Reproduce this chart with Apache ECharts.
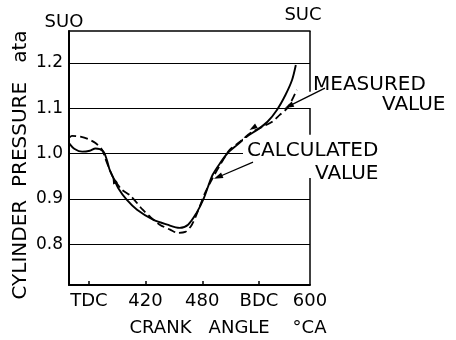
<!DOCTYPE html>
<html><head><meta charset="utf-8">
<script src="https://cdn.jsdelivr.net/npm/echarts@6/dist/echarts.min.js"></script>
<style>html,body{margin:0;padding:0;background:#fff;}#c{width:456px;height:340px;}</style>
</head><body><div id="c"></div>
<script>
// crank angle tick positions and their labels (axis right edge is labelled 600 in the figure)
const xTickValues = [360, 420, 480, 540, 594];
const xTickLabels = ['TDC', '420', '480', 'BDC', '600'];
const xMinorTicks = [360, 420, 480, 540];
const yTickValues = [0.8, 0.9, 1.0, 1.1, 1.2];

// calculated value (solid line): [crank angle, pressure ata]
const calculated = [
  [339,1.023],[345,1.010],[353,1.004],[361,1.006],[367,1.011],[375,1.005],[379,0.986],
  [382,0.964],[386,0.946],[391,0.924],[400,0.898],[411,0.876],[428,0.854],[443,0.843],
  [456,0.836],[465,0.843],[474,0.869],[481,0.898],[486,0.926],[491,0.953],[499,0.979],
  [507,1.001],[517,1.019],[527,1.037],[538,1.052],[549,1.070],[559,1.096],[568,1.129],
  [575,1.162],[579,1.195]
];
// measured value (dashed line)
const measured = [
  [339,1.034],[342,1.039],[351,1.037],[359,1.032],[367,1.023],[374,1.008],[378,0.986],
  [382,0.964],[387,0.942],[395,0.920],[404,0.907],[417,0.876],[425,0.860],[435,0.843],
  [446,0.832],[454,0.825],[462,0.827],[469,0.843],[476,0.876],[483,0.913],[490,0.942],
  [501,0.982],[509,1.008],[520,1.026],[531,1.045],[544,1.059],[554,1.070],[562,1.085],
  [570,1.100],[575,1.118],[580,1.140]
];

const X_MIN = 339, X_MAX = 594, Y_MIN = 0.71, Y_MAX = 1.27;
const FONT = '"DejaVu Sans", "Liberation Sans", sans-serif';

const borderPieces = [[Y_MAX, 1.136], [1.100, 1.041], [0.946, Y_MIN]];
const borderSeries = borderPieces.map(p => ({
  type: 'line', data: [[X_MAX, p[0]], [X_MAX, p[1]]], symbol: 'none', silent: true,
  clip: false, lineStyle: { color: '#000', width: 1.5 }, z: 3
}));

const option = {
  animation: false,
  backgroundColor: '#fff',
  grid: { left: 69, right: 146, top: 31, bottom: 55, containLabel: false },
  xAxis: [{
    type: 'value', min: X_MIN, max: X_MAX,
    axisLine: { onZero: false, lineStyle: { color: '#000', width: 2 } },
    axisTick: { show: true, inside: true, length: 4, customValues: xMinorTicks, lineStyle: { color: '#000', width: 1.5 } },
    axisLabel: { customValues: xTickValues, formatter: v => xTickLabels[xTickValues.indexOf(v)],
      color: '#000', fontSize: 18, fontFamily: FONT, margin: 7, showMinLabel: true, showMaxLabel: true },
    splitLine: { show: false }
  }, {
    type: 'value', position: 'top', min: X_MIN, max: X_MAX,
    axisLine: { onZero: false, lineStyle: { color: '#000', width: 1.5 } },
    axisTick: { show: false }, axisLabel: { show: false }, splitLine: { show: false }
  }],
  yAxis: {
    type: 'value', min: Y_MIN, max: Y_MAX,
    axisLine: { show: true, onZero: false, lineStyle: { color: '#000', width: 2 } },
    axisTick: { show: false, customValues: yTickValues },
    axisLabel: { customValues: yTickValues, formatter: v => v.toFixed(1), color: '#000',
      fontSize: 17, fontFamily: FONT, margin: 6 },
    splitLine: { show: true, lineStyle: { color: '#000', width: 1.2 } }
  },
  series: [
    { name: 'CALCULATED VALUE', type: 'line', data: calculated, symbol: 'none', smooth: 0.3,
      lineStyle: { color: '#000', width: 1.9 }, z: 5 },
    { name: 'MEASURED VALUE', type: 'line', data: measured, symbol: 'none', smooth: 0.3,
      lineStyle: { color: '#000', width: 1.8, type: [8, 4] }, z: 5 }
  ].concat(borderSeries)
};

const chart = echarts.init(document.getElementById('c'), null, { renderer: 'canvas' });
chart.setOption(option);

function px(p) { return chart.convertToPixel({ xAxisIndex: 0, yAxisIndex: 0 }, p); }
function arrowHead(b, ux, uy, hl, hw) {
  const bx = b[0] - ux * hl, by = b[1] - uy * hl;
  return { type: 'polygon', z: 60, shape: { points: [[b[0], b[1]], [bx - uy * hw, by + ux * hw], [bx + uy * hw, by - ux * hw]] },
    style: { fill: '#000' } };
}
function pointer(tail, head) {
  const a = px(tail), b = px(head);
  const dx = b[0] - a[0], dy = b[1] - a[1], L = Math.hypot(dx, dy);
  const ux = dx / L, uy = dy / L;
  return [
    { type: 'line', z: 60, shape: { x1: a[0], y1: a[1], x2: b[0] - ux * 6, y2: b[1] - uy * 6 }, style: { stroke: '#000', lineWidth: 1.3 } },
    arrowHead(b, ux, uy, 9, 3)
  ];
}
function curveArrow(at, toward) {
  const b = px(at), c = px(toward);
  const dx = c[0] - b[0], dy = c[1] - b[1], L = Math.hypot(dx, dy);
  return arrowHead(c, dx / L, dy / L, 8, 2.6);
}
function label(text, x, y, size, align, bg) {
  const st = { text: text, fontSize: size, fontFamily: FONT, fill: '#000', align: align || 'left', verticalAlign: 'middle' };
  if (bg) { st.backgroundColor = '#fff'; st.padding = [3, 3, 3, 4]; }
  return { type: 'text', x: x, y: y, z: 50, style: st };
}

const graphics = [
  label('SUO', 64, 22, 18, 'center'),
  label('SUC', 303, 15, 18, 'center'),
  label('MEASURED', 313, 85, 20, 'left'),
  label('VALUE', 382, 105, 20, 'left'),
  label('CALCULATED', 243, 151, 20, 'left', true),
  label('VALUE', 315, 174, 20, 'left'),
  label('CRANK   ANGLE    °CA', 228, 328, 18, 'center'),
  { type: 'text', x: 21, y: 165, rotation: Math.PI / 2, z: 50,
    style: { text: 'CYLINDER  PRESSURE   ata', fontSize: 20, fontFamily: FONT, fill: '#000', align: 'center', verticalAlign: 'middle' } }
].concat(pointer([609.8, 1.144], [567.5, 1.100]))
 .concat(pointer([533.7, 0.981], [492.4, 0.944]))
 .concat([curveArrow([389, 0.930], [385, 0.950]), curveArrow([538, 1.062], [530, 1.052])]);

chart.setOption({ graphic: graphics });
</script>
</body></html>
